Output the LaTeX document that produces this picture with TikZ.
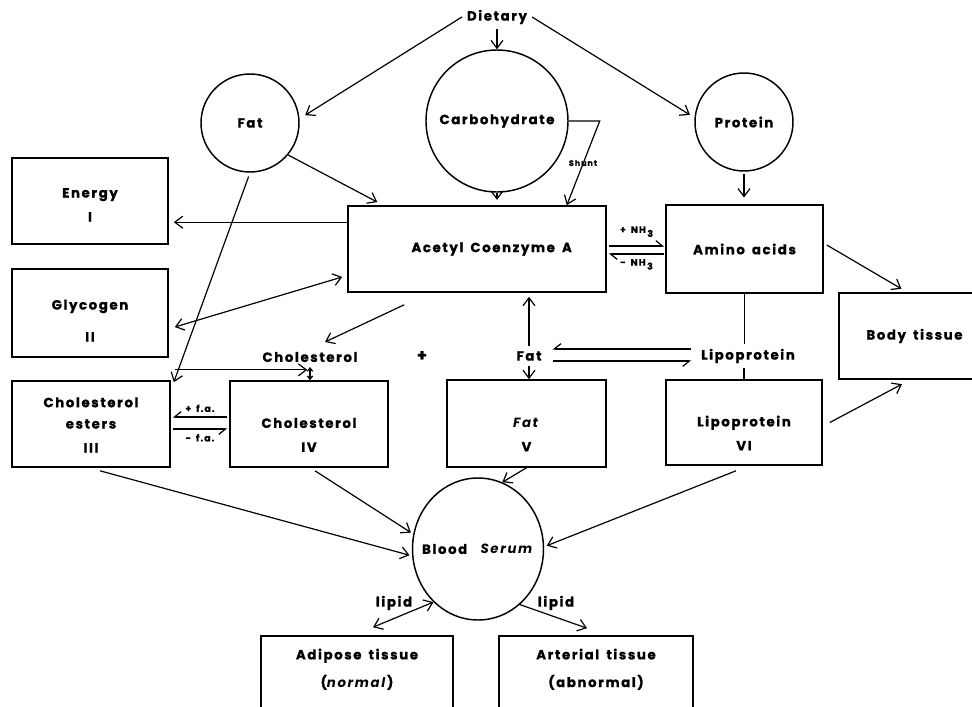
\documentclass[tikz,border=0pt]{standalone}
\usepackage{fontspec}
\setmainfont{Poppins}[LetterSpace=12, WordSpace=1.6, BoldFeatures={FakeBold=1}]
\usetikzlibrary{arrows.meta,calc,shapes.geometric}
\newcommand{\tx}[2][0pt]{\raisebox{-#1}[\height][\depth]{\begin{tabular}{@{}c@{}}#2\end{tabular}}}

\begin{document}
\begin{tikzpicture}[
    x=0.75pt, y=-0.75pt,
    font=\bfseries,
    line width=0.9pt,
    >={Straight Barb[length=6pt,width=9pt]},
    pool/.style={draw, circle, line width=1.1pt, inner sep=0pt},
    box/.style={draw, line width=1.2pt, inner sep=2pt},
    hp/.style={-{Straight Barb[harpoon,length=5pt,width=8pt]}},
    hps/.style={-{Straight Barb[harpoon,swap,length=5pt,width=8pt]}},
    smalltip/.style={>={Straight Barb[length=2.5pt,width=4pt]}},
    lab/.style={font=\bfseries\fontsize{7}{8}\selectfont},
    ]
    \useasboundingbox (0,0) rectangle (972,707);
    \clip (0,0) rectangle (972,707);

    \node (diet) at (497,17) {Dietary};
    \node[pool, minimum size=106.5pt] (carb) at (497,121) {Carbohydrate};
    \node[pool, minimum size=73.5pt] (fatc) at (250,123) {Fat};
    \node[pool, minimum size=73.5pt] (prot) at (744,122) {Protein};

    \node[box, minimum width=193.5pt, minimum height=64.5pt] (acoa) at (477,249) {\hspace*{22pt}Acetyl Coenzyme A};
    \node[box, minimum width=117.75pt, minimum height=66pt] (amino) at (744.5,249) {Amino acids};
    \node[box, minimum width=117pt, minimum height=64.5pt] (energy) at (90,201) {\tx[4pt]{Energy\\[6pt] I}};
    \node[box, minimum width=117pt, minimum height=66pt] (glyc) at (90,313) {\tx[7pt]{Glycogen\\[12pt] II}};
    \node[box, minimum width=118.5pt, minimum height=64.5pt] (ester) at (91,424) {\tx[2pt]{Cholesterol\\[4pt] esters\\[6pt] III}};
    \node[box, minimum width=118.5pt, minimum height=64.5pt] (cholIV) at (309,424) {\tx[9.5pt]{Cholesterol\\[6pt] IV}};
    \node[box, minimum width=119.25pt, minimum height=65.25pt] (fatV) at (526.5,423.5) {\tx[9.5pt]{\textit{Fat}\\[6pt] V}};
    \node[box, minimum width=117pt, minimum height=63.75pt] (lipoVI) at (744,422.5) {\tx[9.5pt]{Lipoprotein\\[6pt] VI}};
    \node[box, minimum width=113.25pt, minimum height=64.5pt] (body) at (914.5,336) {Body tissue};

    \node (chol) at (310,357) {Cholesterol};
    \node[font=\bfseries\large] (plus) at (422,356) {+};
    \node (fatl) at (529,356) {Fat};
    \node (lipol) at (748,356) {Lipoprotein};
    \node[font=\bfseries\fontsize{6}{7}\selectfont] (shunt) at (583,163) {Shunt};

    \node[draw, ellipse, line width=1.1pt, inner sep=0pt, minimum width=98.25pt, minimum height=106.5pt] (serum) at (478,549) {\makebox[0pt]{Blood\hspace{10pt}\textit{Serum}}};
    \node (lipidl) at (394,603) {lipid};
    \node (lipidr) at (556,603) {lipid};
    \node[box, minimum width=144pt, minimum height=63pt] (adip) at (357,678) {\tx[-6pt]{Adipose tissue\\[8pt] (\textit{normal})}};
    \node[box, minimum width=145.5pt, minimum height=63pt] (arter) at (596,678) {\tx[-6pt]{Arterial tissue\\[8pt] (abnormal)}};

    \draw[->] (diet.south) -- (carb.north);
    \draw[->, shorten >=5pt] (diet.west) -- (fatc.5);
    \draw[->, shorten >=4pt] (diet.east) -- (prot.175);

    \draw[->, shorten >=4pt] (carb.south) -- (carb.south |- acoa.north);
    \draw[->] (carb.east) -- ++(31,0) -- ($(acoa.north east)+(-40,0)$);
    \draw[->, shorten <=2pt, shorten >=5pt] (prot.south) -- (prot.south |- amino.north);
    \draw[->, shorten >=5pt] (fatc.-40) -- ($(acoa.north west)+(36,0)$);

    \draw[->] ($(acoa.north west)+(0,17)$) -- ($(energy.east |- acoa.north west)+(5,17)$);
    \draw[<->] ($(glyc.east)+(6,14)$) -- ($(acoa.west)+(-5,28)$);
    \draw[->, shorten <=3pt] (fatc.south) -- ($(ester.north east)+(3,2)$);
    \coordinate (br) at ($(fatc.south)!0.95!(ester.north east)$);
    \draw[->, shorten >=2pt] (br) -- (br -| chol.south);
    \draw[->] ($(acoa.south west)+(57,12)$) -- ($(chol.north)+(15,-5)$);
    \draw[<->, smalltip] (chol.south) -- (chol.south |- cholIV.north);

    \draw[hps] ($(cholIV.west)+(-2,-7)$) -- node[lab, above] {+ f.a.} ($(ester.east)+(2,-7)$);
    \draw[hps] ($(ester.east)+(2,5)$) -- node[lab, below] {- f.a.} ($(cholIV.west)+(-2,5)$);

    \draw[hp] ($(acoa.east)+(2,-3)$) -- node[lab, above, yshift=3pt] {+ NH\,\raisebox{-3pt}{3}} ($(amino.west)+(-1,-3)$);
    \draw[hp] ($(amino.west)+(-1,5)$) -- node[lab, below] {- NH\,\raisebox{-3pt}{3}} ($(acoa.east)+(2,5)$);

    \draw[->, shorten >=3pt] (fatl.north) -- (fatl.north |- acoa.south);
    \draw[->] (fatl.south) -- (fatl.south |- fatV.north);
    \draw[hps] ($(lipol.west)+(-5,-7)$) -- ($(fatl.east)+(6,-7)$);
    \draw[hps] ($(fatl.east)+(6,5)$) -- ($(lipol.west)+(-5,5)$);
    \draw (amino.south) -- (amino.south |- lipol.north);
    \draw (lipoVI.north |- lipol.south) -- (lipoVI.north);

    \draw[->, shorten >=5pt] ($(amino.east)+(3,-4)$) -- ($(body.north west)+(69,0)$);
    \draw[->, shorten >=7pt] ($(lipoVI.east)+(7,0)$) -- ($(body.south west)+(72,0)$);

    \draw[->, shorten >=2pt] ($(ester.south)+(9,3)$) -- (serum.186);
    \draw[->, shorten >=2pt] ($(cholIV.south)+(6,3)$) -- (serum.167);
    \draw[->] (fatV.south) -- (serum.70);
    \draw[->, shorten >=2pt] ($(lipoVI.south)+(-8,5)$) -- (serum.2);

    \draw[<->] (serum.230) -- ($(adip.north)+(16,-8)$);
    \draw[->] (serum.-53) -- ($(arter.north)+(-9,-7)$);
\end{tikzpicture}
\end{document}
